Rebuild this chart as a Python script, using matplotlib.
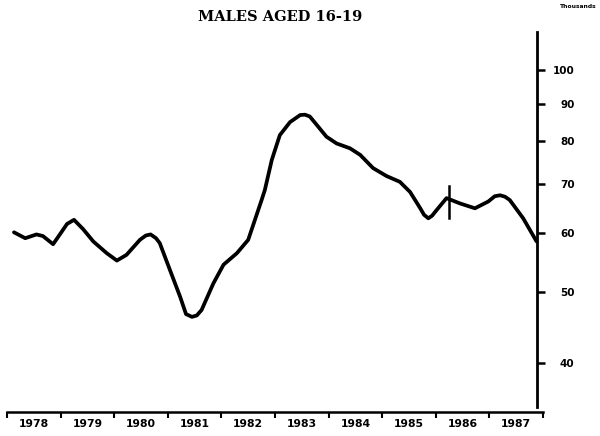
import numpy as np
import matplotlib
matplotlib.use("Agg")
import matplotlib.pyplot as plt
from matplotlib.ticker import FixedLocator, NullFormatter, NullLocator

# values (thousands), x in decimal years
years = [1978.13, 1978.34, 1978.55, 1978.67, 1978.86, 1979.02, 1979.12, 1979.25,
         1979.42, 1979.61, 1979.86, 1980.05, 1980.23, 1980.48, 1980.59, 1980.68,
         1980.78, 1980.85, 1981.04, 1981.23, 1981.34, 1981.45, 1981.54, 1981.63,
         1981.85, 1982.04, 1982.29, 1982.50, 1982.75, 1982.81, 1982.94, 1983.09,
         1983.28, 1983.47, 1983.56, 1983.65, 1983.96, 1984.15, 1984.40, 1984.59,
         1984.83, 1985.08, 1985.33, 1985.52, 1985.71, 1985.78, 1985.86, 1985.93,
         1986.02, 1986.20, 1986.45, 1986.73, 1986.98, 1987.10, 1987.20, 1987.29,
         1987.38, 1987.63, 1987.88]
males = [60.2, 59.1, 59.8, 59.5, 58.0, 60.3, 61.8, 62.6,
         60.8, 58.5, 56.4, 55.1, 56.1, 58.8, 59.6, 59.8,
         59.1, 58.2, 53.5, 49.2, 46.6, 46.2, 46.4, 47.2,
         51.3, 54.4, 56.4, 58.8, 66.6, 68.7, 75.5, 81.6,
         85.0, 86.9, 87.0, 86.5, 81.2, 79.5, 78.3, 76.7,
         73.6, 71.8, 70.5, 68.3, 64.9, 63.6, 62.9, 63.4,
         64.6, 67.0, 65.9, 64.9, 66.3, 67.4, 67.6, 67.3,
         66.6, 62.9, 58.5]
break_year = 1986.25
break_range = [63.0, 69.5]

year_labels = ["1978", "1979", "1980", "1981", "1982",
               "1983", "1984", "1985", "1986", "1987"]
y_ticks = [40, 50, 60, 70, 80, 90, 100]

fig = plt.figure(figsize=(6.0, 4.36), dpi=100)
ax = fig.add_axes([7 / 600, 24 / 436, 536 / 600, 380 / 436])

ax.plot(years, males, color="black", lw=2.7, solid_joinstyle="round",
        solid_capstyle="round")
ax.plot([break_year, break_year], break_range, color="black", lw=1.8)

ax.set_yscale("log")
ax.set_xlim(1978, 1988)
ax.set_ylim(34.3, 112.7)

for s in ["top", "left"]:
    ax.spines[s].set_visible(False)
ax.spines["right"].set_position(("data", 1987.89))
ax.spines["right"].set_bounds(34.8, 112.7)
ax.spines["right"].set_linewidth(2.0)
ax.spines["bottom"].set_linewidth(1.8)

ax.yaxis.set_ticks_position("right")
ax.yaxis.set_major_locator(FixedLocator(y_ticks))
ax.yaxis.set_minor_locator(NullLocator())
ax.yaxis.set_minor_formatter(NullFormatter())
ax.set_yticklabels([str(v) for v in y_ticks], fontsize=7.5, fontweight="bold")
ax.tick_params(axis="y", direction="out", length=6, width=1.8, pad=21)
for lab in ax.get_yticklabels():
    lab.set_horizontalalignment("right")

ax.set_xticks(np.arange(1978, 1989))
ax.set_xticklabels([])
ax.set_xticks(np.arange(1978, 1988) + 0.5, minor=True)
ax.set_xticklabels(year_labels, minor=True, fontsize=7.8, fontweight="bold")
ax.tick_params(axis="x", which="major", direction="out", length=4, width=1.5)
ax.tick_params(axis="x", which="minor", length=0, pad=5)

fig.text(280 / 600, 1 - 17 / 436, "MALES AGED 16-19", ha="center", va="center",
         fontsize=10.5, fontweight="bold", family="DejaVu Serif")
fig.text(597 / 600, 1 - 6 / 436, "Thousands", ha="right", va="center",
         fontsize=4.3, fontweight="bold")

fig.savefig("out.png", dpi=100)
